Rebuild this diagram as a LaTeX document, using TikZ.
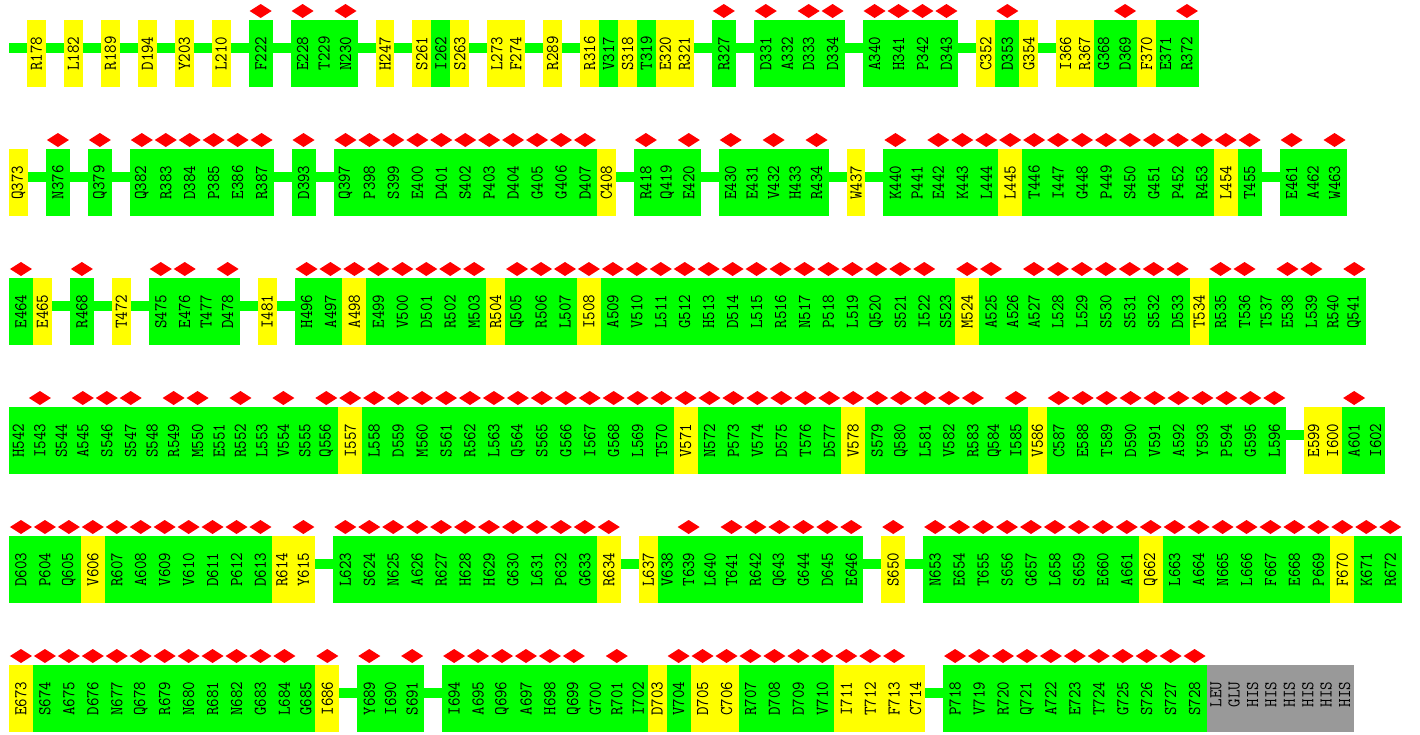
\documentclass[tikz,border=0pt]{standalone}
\usepackage{fontspec}
\usetikzlibrary{shapes.geometric}
\definecolor{resgreen}{RGB}{0,255,0}
\definecolor{resyellow}{RGB}{255,255,0}
\definecolor{resred}{RGB}{255,0,0}
\definecolor{resgray}{RGB}{153,153,153}
\newcommand\ResFont{\fontsize{16.5}{16.5}\selectfont\ttfamily}
\newcommand\ResLabel[1]{\rotatebox{90}{\scalebox{1}[1.09]{#1}}}
\newcounter{resno}
\def\CurX{9}\def\RowTop{20}\def\PendGap{0}\def\PrevPt{}
\newcommand\RowAt[1]{\xdef\CurX{9}\xdef\RowTop{#1}\gdef\PendGap{0}\gdef\PrevPt{}}
\newcommand\LeadGap{%
  \pgfmathsetmacro\ResCY{-\RowTop-33.5}%
  \coordinate (lead) at (\CurX pt,\ResCY pt);%
  \gdef\PrevPt{lead}%
  \pgfmathsetmacro\ResNX{\CurX+18}\xdef\CurX{\ResNX}%
  \gdef\PendGap{1}}
\newcommand\Gap{\pgfmathsetmacro\ResNX{\CurX+18}\xdef\CurX{\ResNX}\gdef\PendGap{1}}
% #1 label, #2 colour, #3 marker (0/1/2: 2 = narrow tag residue)
\newcommand\Res[3]{%
  \stepcounter{resno}%
  \ifcase#3 \def\ResW{18.95}\or\def\ResW{23.95}\else\def\ResW{18.4}\fi
  \pgfmathsetmacro\ResCX{\CurX+\ResW/2}%
  \pgfmathsetmacro\ResCY{-\RowTop-33.5}%
  \pgfmathsetmacro\ResDY{-\RowTop+9}%
  \node[resbox, fill=#2, minimum width=\ResW pt] (r\theresno) at (\ResCX pt,\ResCY pt) {\ResLabel{#1}};
  \ifnum#3=1 \node[marker] (m\theresno) at (\ResCX pt,\ResDY pt) {};\fi
  \ifnum\PendGap=1 \draw[backbone] ([yshift=5.5pt]\PrevPt) -- ([yshift=5.5pt]r\theresno.west);\fi
  \gdef\PendGap{0}%
  \xdef\PrevPt{r\theresno.east}%
  \pgfmathsetmacro\ResNX{\CurX+\ResW}\xdef\CurX{\ResNX}}
\newcommand\Y[1]{\Res{#1}{resyellow}{0}}
\newcommand\YD[1]{\Res{#1}{resyellow}{1}}
\newcommand\G[1]{\Res{#1}{resgreen}{0}}
\newcommand\GD[1]{\Res{#1}{resgreen}{1}}
\newcommand\A[1]{\Res{\phantom{0}#1}{resgray}{2}}
\tikzset{
  resbox/.style={rectangle, inner sep=0pt, outer sep=0pt, minimum height=67pt, draw=none, font=\ResFont, text=black},
  marker/.style={diamond, fill=resred, draw=none, inner sep=0pt, outer sep=0pt, minimum width=22pt, minimum height=14pt},
  backbone/.style={line width=10pt, draw=resgreen},
}
\begin{document}
\begin{tikzpicture}
\useasboundingbox (0,0) rectangle (1420pt,-734pt);
% row 1
\RowAt{20}\LeadGap
\Y{R178}\Gap\Y{L182}\Gap\Y{R189}\Gap\Y{D194}\Gap\Y{Y203}\Gap\Y{L210}\Gap\GD{F222}\Gap\GD{E228}\G{T229}\GD{N230}\Gap\Y{H247}\Gap\Y{S261}\G{I262}\Y{S263}\Gap\Y{L273}\Y{F274}\Gap\Y{R289}\Gap\Y{R316}\G{V317}\Y{S318}\G{T319}\Y{E320}\Y{R321}\Gap\GD{R327}\Gap\GD{D331}\G{A332}\GD{D333}\GD{D334}\Gap\GD{A340}\GD{H341}\GD{P342}\GD{D343}\Gap\Y{C352}\GD{D353}\Y{G354}\Gap\Y{I366}\Y{R367}\G{G368}\GD{D369}\Y{F370}\G{E371}\GD{R372}
% row 2
\RowAt{149}
\Y{Q373}\Gap\GD{N376}\Gap\GD{Q379}\Gap\GD{Q382}\GD{R383}\GD{D384}\GD{P385}\GD{E386}\GD{R387}\Gap\GD{D393}\Gap\GD{Q397}\GD{P398}\GD{S399}\GD{E400}\GD{D401}\GD{S402}\GD{P403}\GD{D404}\GD{G405}\GD{G406}\GD{D407}\Y{C408}\Gap\GD{R418}\G{Q419}\GD{E420}\Gap\GD{E430}\G{E431}\GD{V432}\G{H433}\GD{R434}\Gap\Y{W437}\Gap\GD{K440}\G{P441}\GD{E442}\GD{K443}\GD{L444}\YD{L445}\GD{T446}\GD{I447}\GD{G448}\GD{P449}\GD{S450}\GD{G451}\GD{P452}\GD{R453}\YD{L454}\GD{T455}\Gap\GD{E461}\G{A462}\GD{W463}
% row 3
\RowAt{278}
\GD{E464}\Y{E465}\Gap\GD{R468}\Gap\Y{T472}\Gap\GD{S475}\GD{E476}\G{T477}\GD{D478}\Gap\Y{I481}\Gap\GD{H496}\GD{A497}\YD{A498}\GD{E499}\GD{V500}\GD{D501}\GD{R502}\GD{M503}\Y{R504}\GD{Q505}\GD{R506}\GD{L507}\YD{I508}\GD{A509}\GD{V510}\GD{L511}\GD{G512}\GD{H513}\GD{D514}\GD{L515}\GD{R516}\GD{N517}\GD{P518}\GD{L519}\GD{Q520}\GD{S521}\GD{I522}\G{S523}\YD{M524}\GD{A525}\G{A526}\GD{A527}\GD{L528}\GD{L529}\GD{S530}\GD{S531}\GD{S532}\GD{D533}\Y{T534}\GD{R535}\GD{T536}\G{T537}\GD{E538}\GD{L539}\G{R540}\GD{Q541}
% row 4
\RowAt{407}
\G{H542}\GD{I543}\G{S544}\GD{A545}\GD{S546}\GD{S547}\G{S548}\GD{R549}\GD{M550}\G{E551}\GD{R552}\G{L553}\GD{V554}\G{S555}\GD{Q556}\YD{I557}\GD{L558}\GD{D559}\GD{M560}\GD{S561}\GD{R562}\GD{L563}\GD{Q564}\GD{S565}\GD{G566}\GD{I567}\GD{G568}\GD{L569}\GD{T570}\YD{V571}\GD{N572}\GD{P573}\GD{V574}\GD{D575}\GD{T576}\GD{D577}\YD{V578}\GD{S579}\GD{Q580}\GD{L581}\GD{V582}\GD{R583}\G{Q584}\GD{I585}\Y{V586}\GD{C587}\GD{E588}\GD{T589}\GD{D590}\GD{V591}\GD{A592}\GD{Y593}\GD{P594}\GD{G595}\GD{L596}\Gap\Y{E599}\Y{I600}\GD{A601}\G{I602}
% row 5
\RowAt{536}
\GD{D603}\GD{P604}\GD{Q605}\YD{V606}\GD{R607}\GD{A608}\GD{V609}\GD{V610}\GD{D611}\GD{P612}\GD{D613}\Y{R614}\YD{Y615}\Gap\GD{L623}\GD{S624}\GD{N625}\GD{A626}\GD{R627}\GD{H628}\GD{H629}\GD{G630}\GD{L631}\GD{P632}\GD{G633}\YD{R634}\Gap\Y{L637}\G{V638}\GD{T639}\G{L640}\GD{T641}\GD{R642}\GD{Q643}\GD{G644}\GD{D645}\GD{E646}\Gap\YD{S650}\Gap\GD{N653}\GD{E654}\GD{T655}\GD{S656}\GD{G657}\GD{L658}\GD{S659}\GD{E660}\GD{A661}\YD{Q662}\GD{L663}\GD{A664}\GD{N665}\GD{L666}\GD{F667}\GD{E668}\GD{P669}\YD{F670}\GD{K671}\GD{R672}
% row 6
\RowAt{665}
\YD{E673}\GD{S674}\GD{A675}\GD{D676}\GD{N677}\GD{Q678}\GD{R679}\GD{N680}\GD{R681}\GD{N682}\GD{G683}\GD{L684}\G{G685}\YD{I686}\Gap\GD{Y689}\G{I690}\GD{S691}\Gap\GD{I694}\GD{A695}\GD{Q696}\GD{A697}\GD{H698}\GD{Q699}\G{G700}\GD{R701}\G{I702}\Y{D703}\GD{V704}\YD{D705}\YD{C706}\GD{R707}\GD{D708}\GD{D709}\GD{V710}\YD{I711}\YD{T712}\YD{F713}\Y{C714}\Gap\GD{P718}\GD{V719}\GD{R720}\GD{Q721}\GD{A722}\GD{E723}\GD{T724}\GD{G725}\GD{S726}\GD{S727}\GD{S728}\A{LEU}\A{GLU}\A{HIS}\A{HIS}\A{HIS}\A{HIS}\A{HIS}\A{HIS}
\end{tikzpicture}
\end{document}
